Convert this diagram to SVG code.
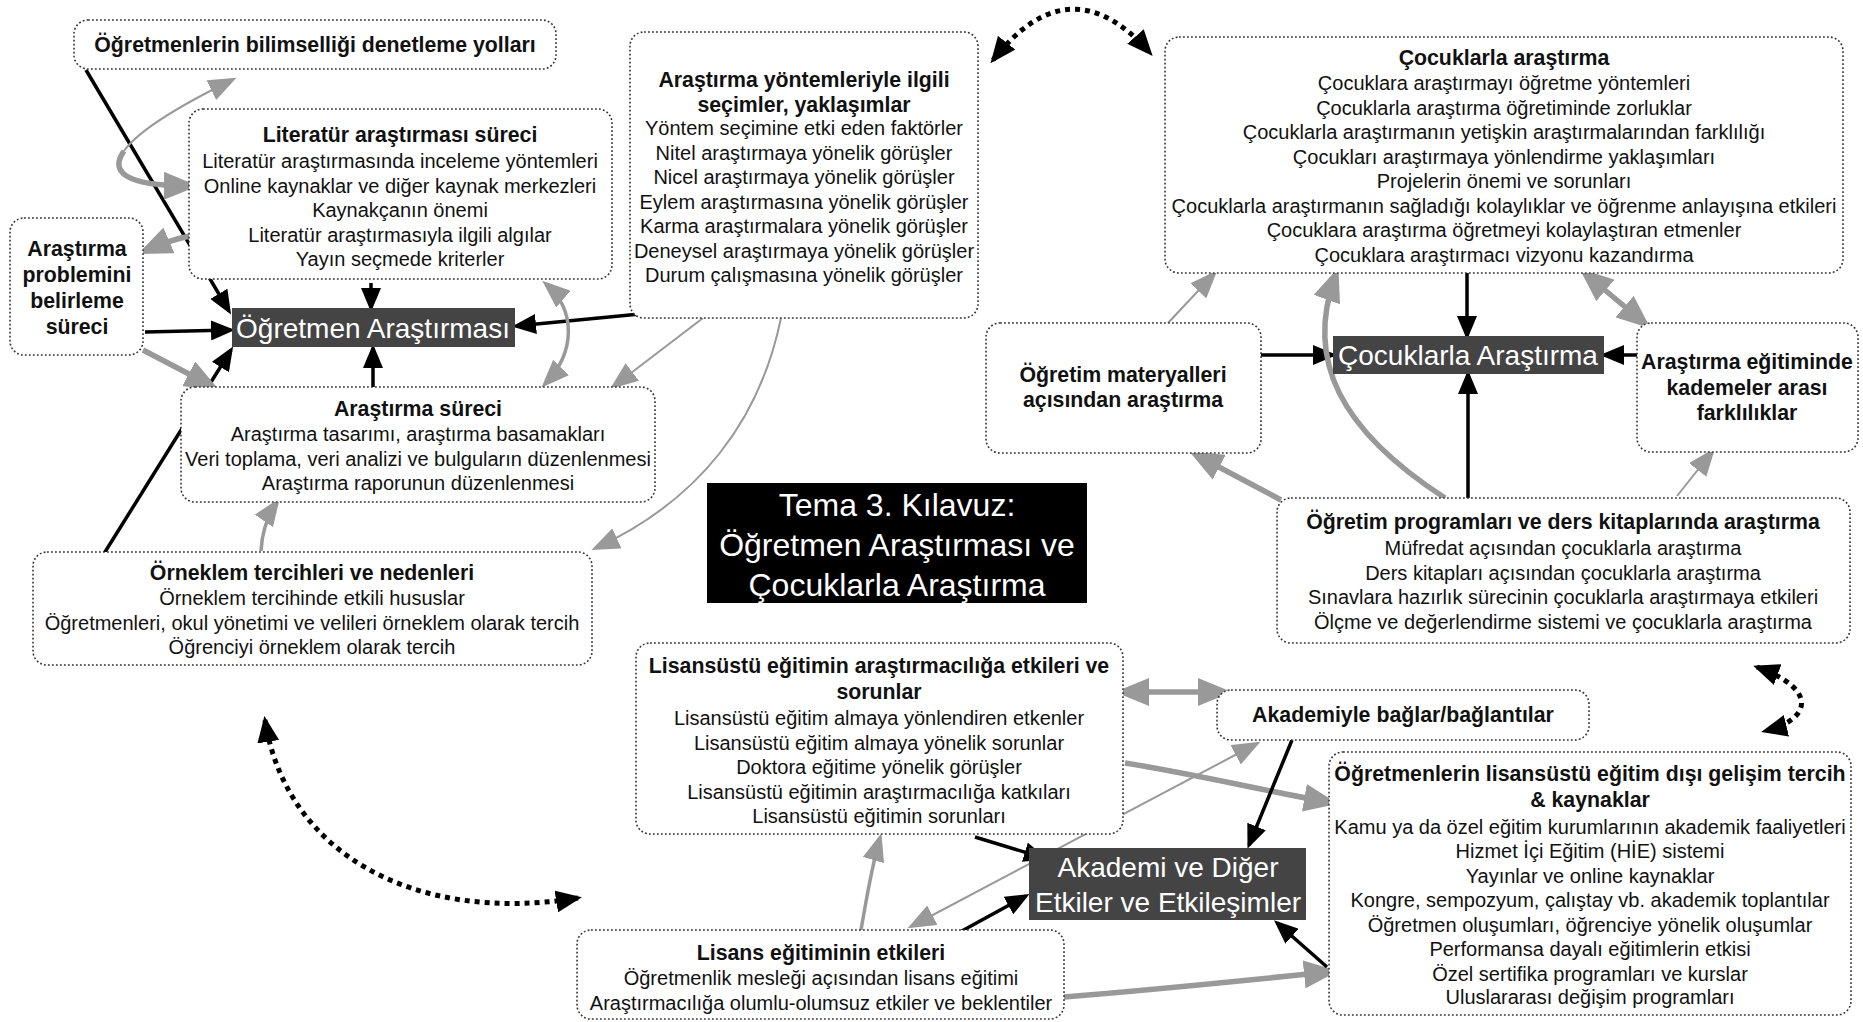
<svg xmlns="http://www.w3.org/2000/svg" width="1863" height="1022" viewBox="0 0 1863 1022">
<style>
.box{fill:#fff;stroke:#333;stroke-width:1.6;stroke-dasharray:1.8 2.2}
.dark{fill:#444}
.t{font-family:"Liberation Sans",Arial,sans-serif;font-size:20px;fill:#111;text-anchor:middle}
.b{font-family:"Liberation Sans",Arial,sans-serif;font-size:21.3px;font-weight:bold;fill:#111;text-anchor:middle}
.w{font-family:"Liberation Sans",Arial,sans-serif;font-size:28px;fill:#fff;text-anchor:middle}
.ti{font-family:"Liberation Sans",Arial,sans-serif;font-size:32px;fill:#fff;text-anchor:middle}
.k{fill:none;stroke:#000;stroke-width:3.5;marker-end:url(#mb)}
.g{fill:none;stroke:#999;stroke-width:5.5;marker-end:url(#mg)}
.gs{fill:none;stroke:#999;stroke-width:2;marker-end:url(#mgs)}
.gm{fill:none;stroke:#999;stroke-width:3.5;marker-end:url(#mgs)}
.dt{fill:none;stroke:#000;stroke-width:5;stroke-dasharray:5 5;marker-start:url(#md);marker-end:url(#md)}
</style>
<defs>
<marker id="mb" viewBox="0 0 24 20" refX="20" refY="10" markerWidth="24" markerHeight="20" markerUnits="userSpaceOnUse" orient="auto-start-reverse"><path d="M0,0 L24,10 L0,20z" fill="#000"/></marker>
<marker id="mg" viewBox="0 0 34 28" refX="24" refY="14" markerWidth="34" markerHeight="28" markerUnits="userSpaceOnUse" orient="auto-start-reverse"><path d="M0,0 L34,14 L0,28z" fill="#999"/></marker>
<marker id="mgs" viewBox="0 0 28 22" refX="23" refY="11" markerWidth="28" markerHeight="22" markerUnits="userSpaceOnUse" orient="auto-start-reverse"><path d="M0,0 L28,11 L0,22z" fill="#999"/></marker>
<marker id="md" viewBox="0 0 26 22" refX="22" refY="11" markerWidth="26" markerHeight="22" markerUnits="userSpaceOnUse" orient="auto-start-reverse"><path d="M0,0 L26,11 L0,22z" fill="#000"/></marker>
</defs>
<rect width="1863" height="1022" fill="#fff"/>

<g id="connectors">
<path class="k" d="M86,70 L229,311"/>
<path class="k" d="M145,332 L231,330"/>
<path class="k" d="M100,560 L231,350"/>
<path class="k" d="M371,283 L371,308"/>
<path class="k" d="M373,390 L373,348"/>
<path class="k" d="M640,314 L516,326"/>
<path fill="none" stroke="#999" stroke-width="2" marker-start="url(#mgs)" d="M232,80 C181,105 138,131 124,151"/>
<path class="g" d="M124,151 C109.5,171.5 124,185.5 188,186"/>
<path class="g" d="M190,236 Q170,240 147,250"/>
<path class="g" d="M143,350 L210,385"/>
<path class="gm" marker-start="url(#mgs)" d="M546,284 C576,310 576,352 545,384"/>
<path class="gs" d="M703,318 L614,386"/>
<path class="gs" d="M781,318 C760,420 700,500 596,548"/>
<path class="gm" d="M261,551 C262,530 268,515 277,502"/>

<path class="k" d="M1467,273 L1467,336"/>
<path class="k" d="M1261,355 L1333,355"/>
<path class="k" d="M1637,355 L1604,355"/>
<path class="k" d="M1468,498 L1468,374"/>
<path class="gs" d="M1168,323 L1214,274"/>
<path class="g" d="M1445,498 C1340,430 1305,360 1335,277"/>
<path class="g" marker-start="url(#mg)" d="M1587,275 L1643,322"/>
<path class="g" d="M1281,500 L1198,456"/>
<path class="gs" d="M1677,496 L1712,452"/>

<path class="g" marker-start="url(#mg)" d="M1125,692 L1222,692"/>
<path class="k" d="M975,837 L1044,858"/>
<path class="k" d="M960,932 L1026,896"/>
<path class="gs" marker-start="url(#mgs)" d="M912,926 L1256,744"/>
<path class="gm" d="M861,930 C868,890 872,865 880,838"/>
<path class="g" d="M1125,763 C1200,775 1260,790 1328,802"/>
<path class="g" d="M1064,997 C1150,990 1250,980 1328,972"/>
<path class="k" d="M1292,740 L1249,845"/>
<path class="k" d="M1327,967 L1277,923"/>

<path class="dt" d="M993,60 Q1070,-38 1150,53"/>
<path class="dt" d="M265,720 C285,850 410,925 578,898"/>
<path class="dt" d="M1757,667 C1820,690 1810,720 1765,731"/>
</g>

<g id="n-denetleme">
<rect class="box" x="74" y="20" width="482" height="49" rx="14"/>
<text class="b" x="315" y="52">Öğretmenlerin bilimselliği denetleme yolları</text>
</g>

<g id="n-literatur">
<rect class="box" x="189" y="109" width="423" height="170" rx="14"/>
<text class="b" x="400" y="142">Literatür araştırması süreci</text>
<text class="t" x="400" y="168">Literatür araştırmasında inceleme yöntemleri</text>
<text class="t" x="400" y="192.5">Online kaynaklar ve diğer kaynak merkezleri</text>
<text class="t" x="400" y="217">Kaynakçanın önemi</text>
<text class="t" x="400" y="241.5">Literatür araştırmasıyla ilgili algılar</text>
<text class="t" x="400" y="266">Yayın seçmede kriterler</text>
</g>

<g id="n-problem">
<rect class="box" x="10" y="218" width="133" height="137" rx="14"/>
<text class="b" x="77" y="255.5">Araştırma</text>
<text class="b" x="77" y="281.5">problemini</text>
<text class="b" x="77" y="307.5">belirleme</text>
<text class="b" x="77" y="333.5">süreci</text>
</g>

<g id="n-ogretmen-arastirmasi">
<rect class="dark" x="232" y="308" width="283" height="39"/>
<text class="w" x="373" y="338">Öğretmen Araştırması</text>
</g>

<g id="n-yontemler">
<rect class="box" x="630" y="32" width="348" height="286" rx="14"/>
<text class="b" x="804" y="87">Araştırma yöntemleriyle ilgili</text>
<text class="b" x="804" y="112">seçimler, yaklaşımlar</text>
<text class="t" x="804" y="135">Yöntem seçimine etki eden faktörler</text>
<text class="t" x="804" y="159.5">Nitel araştırmaya yönelik görüşler</text>
<text class="t" x="804" y="184">Nicel araştırmaya yönelik görüşler</text>
<text class="t" x="804" y="208.5">Eylem araştırmasına yönelik görüşler</text>
<text class="t" x="804" y="233">Karma araştırmalara yönelik görüşler</text>
<text class="t" x="804" y="257.5">Deneysel araştırmaya yönelik görüşler</text>
<text class="t" x="804" y="282">Durum çalışmasına yönelik görüşler</text>
</g>

<g id="n-surec">
<rect class="box" x="181" y="387" width="474" height="115" rx="14"/>
<text class="b" x="418" y="416">Araştırma süreci</text>
<text class="t" x="418" y="441">Araştırma tasarımı, araştırma basamakları</text>
<text class="t" x="418" y="465.5">Veri toplama, veri analizi ve bulguların düzenlenmesi</text>
<text class="t" x="418" y="490">Araştırma raporunun düzenlenmesi</text>
</g>

<g id="n-orneklem">
<rect class="box" x="33" y="552" width="559" height="113" rx="14"/>
<text class="b" x="312" y="580">Örneklem tercihleri ve nedenleri</text>
<text class="t" x="312" y="605">Örneklem tercihinde etkili hususlar</text>
<text class="t" x="312" y="629.5">Öğretmenleri, okul yönetimi ve velileri örneklem olarak tercih</text>
<text class="t" x="312" y="654">Öğrenciyi örneklem olarak tercih</text>
</g>

<g id="n-tema">
<rect x="707" y="483" width="380" height="120" fill="#000"/>
<text class="ti" x="897" y="516">Tema 3. Kılavuz:</text>
<text class="ti" x="897" y="556">Öğretmen Araştırması ve</text>
<text class="ti" x="897" y="596">Çocuklarla Araştırma</text>
</g>

<g id="n-cocuklarla-arastirma-liste">
<rect class="box" x="1165" y="37" width="678" height="236" rx="14"/>
<text class="b" x="1504" y="65">Çocuklarla araştırma</text>
<text class="t" x="1504" y="90">Çocuklara araştırmayı öğretme yöntemleri</text>
<text class="t" x="1504" y="114.5">Çocuklarla araştırma öğretiminde zorluklar</text>
<text class="t" x="1504" y="139">Çocuklarla araştırmanın yetişkin araştırmalarından farklılığı</text>
<text class="t" x="1504" y="163.5">Çocukları araştırmaya yönlendirme yaklaşımları</text>
<text class="t" x="1504" y="188">Projelerin önemi ve sorunları</text>
<text class="t" x="1504" y="212.5">Çocuklarla araştırmanın sağladığı kolaylıklar ve öğrenme anlayışına etkileri</text>
<text class="t" x="1504" y="237">Çocuklara araştırma öğretmeyi kolaylaştıran etmenler</text>
<text class="t" x="1504" y="261.5">Çocuklara araştırmacı vizyonu kazandırma</text>
</g>

<g id="n-cocuklarla-arastirma">
<rect class="dark" x="1333" y="336" width="271" height="38"/>
<text class="w" x="1468" y="365">Çocuklarla Araştırma</text>
</g>

<g id="n-materyal">
<rect class="box" x="986" y="323" width="275" height="130" rx="14"/>
<text class="b" x="1123" y="382">Öğretim materyalleri</text>
<text class="b" x="1123" y="407">açısından araştırma</text>
</g>

<g id="n-kademe">
<rect class="box" x="1637" y="323" width="221" height="129" rx="14"/>
<text class="b" x="1747" y="369">Araştırma eğitiminde</text>
<text class="b" x="1747" y="395">kademeler arası</text>
<text class="b" x="1747" y="420">farklılıklar</text>
</g>

<g id="n-programlar">
<rect class="box" x="1277" y="498" width="573" height="145" rx="14"/>
<text class="b" x="1563" y="529">Öğretim programları ve ders kitaplarında araştırma</text>
<text class="t" x="1563" y="555">Müfredat açısından çocuklarla araştırma</text>
<text class="t" x="1563" y="579.5">Ders kitapları açısından çocuklarla araştırma</text>
<text class="t" x="1563" y="604">Sınavlara hazırlık sürecinin çocuklarla araştırmaya etkileri</text>
<text class="t" x="1563" y="628.5">Ölçme ve değerlendirme sistemi ve çocuklarla araştırma</text>
</g>

<g id="n-lisansustu">
<rect class="box" x="636" y="643" width="487" height="191" rx="14"/>
<text class="b" x="879" y="673">Lisansüstü eğitimin araştırmacılığa etkileri ve</text>
<text class="b" x="879" y="699">sorunlar</text>
<text class="t" x="879" y="725">Lisansüstü eğitim almaya yönlendiren etkenler</text>
<text class="t" x="879" y="749.5">Lisansüstü eğitim almaya yönelik sorunlar</text>
<text class="t" x="879" y="774">Doktora eğitime yönelik görüşler</text>
<text class="t" x="879" y="798.5">Lisansüstü eğitimin araştırmacılığa katkıları</text>
<text class="t" x="879" y="823">Lisansüstü eğitimin sorunları</text>
</g>

<g id="n-akademiyle">
<rect class="box" x="1217" y="690" width="372" height="50" rx="14"/>
<text class="b" x="1403" y="722">Akademiyle bağlar/bağlantılar</text>
</g>

<g id="n-akademi">
<rect class="dark" x="1029" y="848" width="277" height="72"/>
<text class="w" x="1168" y="877">Akademi ve Diğer</text>
<text class="w" x="1168" y="912">Etkiler ve Etkileşimler</text>
</g>

<g id="n-lisans">
<rect class="box" x="577" y="930" width="487" height="89" rx="14"/>
<text class="b" x="821" y="960">Lisans eğitiminin etkileri</text>
<text class="t" x="821" y="985">Öğretmenlik mesleği açısından lisans eğitimi</text>
<text class="t" x="821" y="1010">Araştırmacılığa olumlu-olumsuz etkiler ve beklentiler</text>
</g>

<g id="n-gelisim">
<rect class="box" x="1329" y="752" width="522" height="263" rx="14"/>
<text class="b" x="1590" y="781">Öğretmenlerin lisansüstü eğitim dışı gelişim tercih</text>
<text class="b" x="1590" y="807">&amp; kaynaklar</text>
<text class="t" x="1590" y="834">Kamu ya da özel eğitim kurumlarının akademik faaliyetleri</text>
<text class="t" x="1590" y="858">Hizmet İçi Eğitim (HİE) sistemi</text>
<text class="t" x="1590" y="882.5">Yayınlar ve online kaynaklar</text>
<text class="t" x="1590" y="907">Kongre, sempozyum, çalıştay vb. akademik toplantılar</text>
<text class="t" x="1590" y="931.5">Öğretmen oluşumları, öğrenciye yönelik oluşumlar</text>
<text class="t" x="1590" y="956">Performansa dayalı eğitimlerin etkisi</text>
<text class="t" x="1590" y="980.5">Özel sertifika programları ve kurslar</text>
<text class="t" x="1590" y="1004">Uluslararası değişim programları</text>
</g>
</svg>
